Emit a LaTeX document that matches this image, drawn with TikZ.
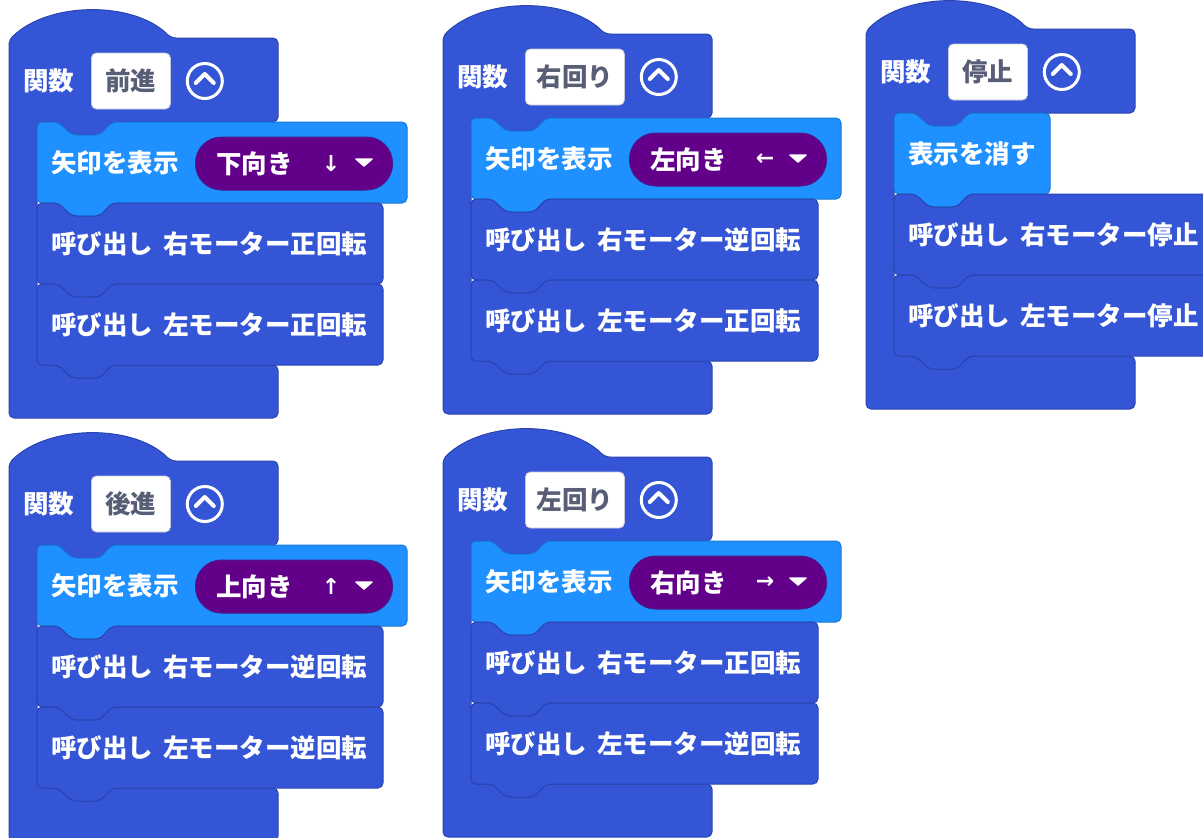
\documentclass[tikz,border=0pt]{standalone}
\usepackage{fontspec}
\setmainfont{Noto Sans CJK JP}
\newfontfamily\symfont{DejaVu Sans}
\definecolor{fnblue}{HTML}{3455D6}
\definecolor{fnedge}{HTML}{2944B0}
\definecolor{lblue}{HTML}{1E90FF}
\definecolor{ledge}{HTML}{1877D6}
\definecolor{pillc}{HTML}{63008A}
\definecolor{pilledge}{HTML}{4A1A8C}
\definecolor{boxtext}{HTML}{575E75}
\definecolor{boxedge}{HTML}{C6CAD6}
\newcommand\jpfont{\bfseries\fontsize{25.5}{30}\selectfont}
\tikzset{
  fnblk/.style={fill=fnblue, draw=fnedge, line width=1pt, rounded corners=5pt},
  lblk/.style={fill=lblue, draw=ledge, line width=1pt, rounded corners=5pt},
  txt/.style={text=white, font=\jpfont, inner sep=0pt, anchor=west},
  namebox/.style={fill=white, draw=boxedge, line width=0.8pt, rounded corners=5pt, minimum height=56pt, inner sep=0pt, text=boxtext, font=\jpfont},
  pill/.style={fill=pillc, draw=pilledge, line width=1pt, rounded corners=26pt, minimum height=53pt, minimum width=197pt, inner sep=0pt},
  coll/.style={circle, draw=white, line width=3pt, minimum size=35pt, inner sep=0pt},
  chev/.style={draw=white, line width=4pt, line cap=round, line join=round},
  ddtri/.style={fill=white, draw=white, line width=1.5pt, line join=round},
  arrowtxt/.style={text=white, font=\symfont\bfseries\fontsize{22}{24}\selectfont, inner sep=0pt},
}
\newcommand\notchR[2]{-- (#1+21,#2) -- (#1+35,#2+13) -- (#1+63,#2+13) -- (#1+75,#2)}
\newcommand\tabL[2]{-- (#1+75,#2) -- (#1+63,#2+13) -- (#1+35,#2+13) -- (#1+21,#2)}
\newcommand\cshape{\path[fnblk] (0,2) .. controls (40,-37) and (125,-37) .. (162,0) -- (269,0) -- (269,84) \tabL{28}{84} -- (28,84) -- (28,327) \notchR{28}{327} -- (269,327) -- (269,380) -- (0,380) -- cycle;}
\newcommand\stmt[4]{\path[#1] (28,#2) \notchR{28}{#2} -- (#3,#2) -- (#3,#4) \tabL{28}{#4} -- (28,#4) -- cycle;}
\newcommand\hdr[3]{%
  \node[txt] (#1kw) at (14,43) {関数};
  \node[namebox, minimum width=#3pt, anchor=west] (#1nm) at (82,43) {#2};
  \node[coll] (#1col) at ([xshift=34pt]#1nm.east) {};
  \draw[chev] ([xshift=-9pt,yshift=-2pt]#1col.center) -- ([yshift=7pt]#1col.center) -- ([xshift=9pt,yshift=-2pt]#1col.center);
}
\newcommand\pillnode[4]{%
  \node[pill, anchor=west] (#1p) at (186,125.5) {};
  \node[txt] (#1pl) at ([xshift=21pt]#1p.west) {#3};
  \node[arrowtxt] (#1pa) at ([xshift=136pt]#1p.west) {#4};
  \coordinate (#1tc) at ([xshift=169pt]#1p.west);
  \draw[ddtri] ([xshift=-8pt,yshift=4.5pt]#1tc) -- ([xshift=8pt,yshift=4.5pt]#1tc) -- ([yshift=-2.5pt]#1tc) -- cycle;
}
\begin{document}
\begin{tikzpicture}[x=1pt,y=-1pt]
\useasboundingbox (0,0) rectangle (1203,838);
\clip (0,0) rectangle (1203,838);
% ---- 前進
\begin{scope}[shift={(9,38)}]
  \cshape
  \stmt{lblk}{84}{398}{165}
  \stmt{fnblk}{165}{374}{246}
  \stmt{fnblk}{246}{374}{327}
  \hdr{a}{前進}{79}
  \node[txt] (as) at (42,125) {矢印を表示};
  \pillnode{a}{186}{下向き}{↓}
  \node[txt] (ac1) at (42,206) {呼び出し\hspace{10pt}右モーター正回転};
  \node[txt] (ac2) at (42,287) {呼び出し\hspace{10pt}左モーター正回転};
\end{scope}
% ---- 右回り
\begin{scope}[shift={(443,34)}]
  \cshape
  \stmt{lblk}{84}{398}{165}
  \stmt{fnblk}{165}{375}{246}
  \stmt{fnblk}{246}{375}{327}
  \hdr{b}{右回り}{99}
  \node[txt] (bs) at (42,125) {矢印を表示};
  \pillnode{b}{186}{左向き}{←}
  \node[txt] (bc1) at (42,206) {呼び出し\hspace{10pt}右モーター逆回転};
  \node[txt] (bc2) at (42,287) {呼び出し\hspace{10pt}左モーター正回転};
\end{scope}
% ---- 停止
\begin{scope}[shift={(866,29)}]
  \cshape
  \stmt{lblk}{84}{184}{165}
  \stmt{fnblk}{165}{420}{246}
  \stmt{fnblk}{246}{420}{327}
  \hdr{c}{停止}{79}
  \node[txt] (cs) at (42,125) {表示を消す};
  \node[txt] (cc1) at (42,206) {呼び出し\hspace{10pt}右モーター停止};
  \node[txt] (cc2) at (42,287) {呼び出し\hspace{10pt}左モーター停止};
\end{scope}
% ---- 後進
\begin{scope}[shift={(9,461)}]
  \cshape
  \stmt{lblk}{84}{398}{165}
  \stmt{fnblk}{165}{374}{246}
  \stmt{fnblk}{246}{374}{327}
  \hdr{d}{後進}{79}
  \node[txt] (ds) at (42,125) {矢印を表示};
  \pillnode{d}{186}{上向き}{↑}
  \node[txt] (dc1) at (42,206) {呼び出し\hspace{10pt}右モーター逆回転};
  \node[txt] (dc2) at (42,287) {呼び出し\hspace{10pt}左モーター逆回転};
\end{scope}
% ---- 左回り
\begin{scope}[shift={(443,457)}]
  \cshape
  \stmt{lblk}{84}{398}{165}
  \stmt{fnblk}{165}{375}{246}
  \stmt{fnblk}{246}{375}{327}
  \hdr{e}{左回り}{99}
  \node[txt] (es) at (42,125) {矢印を表示};
  \pillnode{e}{186}{右向き}{→}
  \node[txt] (ec1) at (42,206) {呼び出し\hspace{10pt}右モーター正回転};
  \node[txt] (ec2) at (42,287) {呼び出し\hspace{10pt}左モーター逆回転};
\end{scope}
\end{tikzpicture}
\end{document}
